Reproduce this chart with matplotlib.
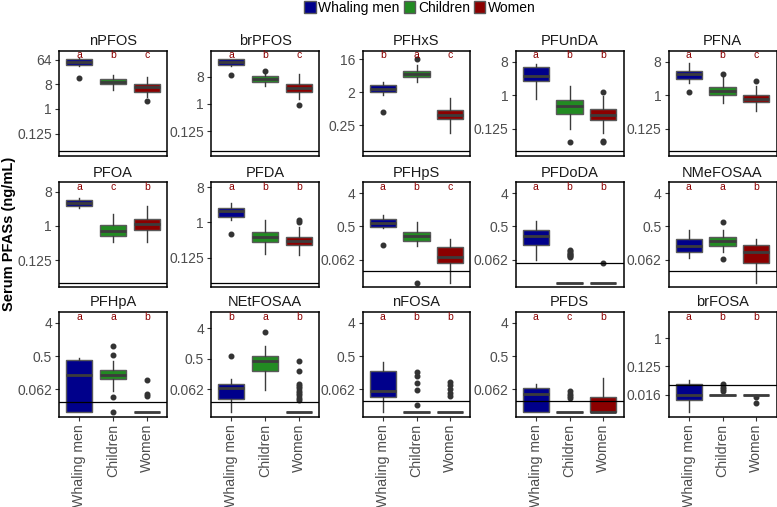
import matplotlib
matplotlib.use("Agg")
import matplotlib.pyplot as plt
from matplotlib.patches import Patch
import numpy as np

plt.rcParams['font.family'] = ['Liberation Sans', 'DejaVu Sans']

# panels (facet order) and groups
compounds = ["nPFOS", "brPFOS", "PFHxS", "PFUnDA", "PFNA",
             "PFOA", "PFDA", "PFHpS", "PFDoDA", "NMeFOSAA",
             "PFHpA", "NEtFOSAA", "nFOSA", "PFDS", "brFOSA"]
groups = ["Whaling men", "Children", "Women"]
colors = ["#00008B", "#228B22", "#8B0000"]

# significance letters per group
letters = [["a", "b", "c"], ["a", "b", "c"], ["b", "a", "c"], ["a", "b", "b"], ["a", "b", "c"],
           ["a", "c", "b"], ["a", "b", "b"], ["a", "b", "c"], ["a", "b", "b"], ["a", "a", "b"],
           ["a", "a", "b"], ["b", "a", "b"], ["a", "b", "b"], ["a", "c", "b"], ["a", "b", "b"]]

# detection limit line and height of the letters (ng/mL)
lod = [0.029, 0.028, 0.05, 0.031, 0.031, 0.032, 0.029, 0.030, 0.051, 0.030,
       0.029, 0.026, 0.030, 0.030, 0.032]
letter_y = [90, 40, 20, 12, 12, 10.7, 8, 5.8, 5.8, 5.8, 5.8, 8.75, 5.8, 5.8, 5.0]

yticks = [[64, 8, 1, 0.125], [8, 1, 0.125], [16, 2, 0.25], [8, 1, 0.125], [8, 1, 0.125],
          [8, 1, 0.125], [8, 1, 0.125], [4, 0.5, 0.0625], [4, 0.5, 0.0625], [4, 0.5, 0.0625],
          [4, 0.5, 0.0625], [4, 0.5, 0.0625], [4, 0.5, 0.0625], [4, 0.5, 0.0625], [1, 0.125, 0.015625]]

# box statistics (ng/mL), one row per compound, columns = groups
whislo = [[37, 4.9, 2.7], [17.9, 3.8, 1.45], [1.7, 3.8, 0.15], [0.77, 0.125, 0.093], [2.2, 0.6, 0.37],
          [3.0, 0.38, 0.38], [1.16, 0.16, 0.144], [0.45, 0.15, 0.015], [0.0625, 0.015, 0.015], [0.069, 0.1, 0.015],
          [0.015, 0.056, 0.015], [0.013, 0.061, 0.013], [0.015, 0.015, 0.015], [0.015, 0.015, 0.015], [0.0042, 0.0156, 0.0156]]
q1 = [[42, 8, 4], [19.3, 5.4, 2.46], [2.04, 5.2, 0.36], [2.4, 0.32, 0.21], [2.8, 0.99, 0.64],
      [3.3, 0.54, 0.78], [1.4, 0.32, 0.26], [0.48, 0.2, 0.051], [0.16, 0.015, 0.015], [0.099, 0.15, 0.051],
      [0.015, 0.12, 0.015], [0.033, 0.21, 0.013], [0.038, 0.015, 0.015], [0.015, 0.015, 0.015], [0.0103, 0.0156, 0.0156]]
med = [[52, 9.9, 6.2], [23.6, 6.7, 3.25], [2.5, 6.4, 0.49], [3.4, 0.51, 0.30], [3.7, 1.3, 0.81],
       [4.0, 0.76, 1.1], [1.9, 0.43, 0.34], [0.62, 0.27, 0.073], [0.27, 0.015, 0.015], [0.15, 0.2, 0.099],
       [0.157, 0.157, 0.015], [0.067, 0.42, 0.013], [0.057, 0.015, 0.015], [0.047, 0.015, 0.015], [0.0156, 0.0156, 0.0156]]
q3 = [[67, 12.4, 8], [29.6, 8.2, 4.6], [3.16, 7.6, 0.67], [5.7, 0.73, 0.42], [4.6, 1.7, 1.0],
      [4.8, 1.06, 1.55], [2.4, 0.57, 0.43], [0.77, 0.35, 0.138], [0.41, 0.015, 0.015], [0.22, 0.26, 0.16],
      [0.4, 0.21, 0.015], [0.092, 0.6, 0.013], [0.2, 0.015, 0.015], [0.067, 0.015, 0.038], [0.035, 0.0156, 0.0156]]
whishi = [[70, 17, 15], [30, 10.8, 10], [3.9, 10.7, 1.4], [7.1, 1.77, 0.95], [7.5, 3.3, 1.77],
          [5.5, 2.1, 3.4], [3.1, 1.16, 0.78], [1.03, 0.66, 0.22], [0.68, 0.015, 0.015], [0.39, 0.39, 0.22],
          [0.45, 0.37, 0.015], [0.126, 1.2, 0.013], [0.34, 0.015, 0.015], [0.087, 0.015, 0.13], [0.047, 0.0156, 0.0156]]
fliers = [[[13.8], [], [2.0]],
          [[9.1], [12.6], [0.9]],
          [[0.56], [16], []],
          [[], [0.053], [1.2, 0.057, 0.053]],
          [[1.2], [3.8], [2.4]],
          [[], [], []],
          [[0.51], [], [1.16, 1.0]],
          [[0.16], [0.015], []],
          [[], [0.117, 0.105, 0.095, 0.088, 0.082, 0.077, 0.073], [0.052]],
          [[], [0.64, 0.065], []],
          [[], [0.91, 0.55, 0.038, 0.015], [0.115, 0.048, 0.041]],
          [[0.61], [3.2], [0.44, 0.22, 0.09, 0.077, 0.066, 0.056, 0.048, 0.041, 0.035, 0.029]],
          [[], [0.18, 0.144, 0.095, 0.06, 0.024], [0.1, 0.082, 0.0625, 0.049, 0.041]],
          [[], [0.055, 0.048, 0.042, 0.036], []],
          [[], [0.033, 0.028, 0.024, 0.021], [0.013, 0.0084]]]

W, H = 777, 507
fig = plt.figure(figsize=(W / 100, H / 100), dpi=100)

col_left = [59, 211, 362.5, 515.5, 668.5]
row_top = [50.7, 182.3, 312]
pw, ph = 108, 105

for i, name in enumerate(compounds):
    r, c = divmod(i, 5)
    ax = fig.add_axes([col_left[c] / W, 1 - (row_top[r] + ph) / H, pw / W, ph / H])
    ax.set_yscale('log', base=2)

    stats = []
    for g in range(3):
        stats.append(dict(whislo=whislo[i][g], q1=q1[i][g], med=med[i][g], q3=q3[i][g],
                          whishi=whishi[i][g], fliers=fliers[i][g]))
    bp = ax.bxp(stats, positions=[1, 2, 3], widths=0.78, patch_artist=True, showcaps=False,
                boxprops=dict(edgecolor='#5a5a5a', linewidth=1.0),
                whiskerprops=dict(color='#3c3c3c', linewidth=1.0),
                medianprops=dict(color='#3c3c3c', linewidth=2.0),
                flierprops=dict(marker='o', markersize=3.3, markerfacecolor='#333333',
                                markeredgecolor='#333333'))
    for patch, col in zip(bp['boxes'], colors):
        patch.set_facecolor(col)

    ax.axhline(lod[i], color='black', linewidth=0.9, zorder=4)

    for g in range(3):
        ax.text(g + 1, letter_y[i], letters[i][g], color='#8B0000', fontsize=7.5,
                ha='center', va='center')

    allv = [lod[i]] + whislo[i] + [v for f in fliers[i] for v in f]
    lo = np.log2(min(allv))
    hi = np.log2(letter_y[i])
    span = hi - lo
    ax.set_ylim(2 ** (lo - 0.05 * span), 2 ** (hi + 0.05 * span))
    ax.set_xlim(0.4, 3.6)

    ax.yaxis.set_minor_locator(matplotlib.ticker.NullLocator())
    ax.set_yticks(yticks[i])
    ax.set_yticklabels([f"{round(v, 3):g}" for v in yticks[i]])
    ax.tick_params(axis='y', labelsize=10, colors='#333333', labelcolor='#4d4d4d',
                   length=3, width=0.8, pad=2)

    if r == 2:
        ax.set_xticks([1, 2, 3])
        ax.set_xticklabels(groups, rotation=90, fontsize=10.2, color='#4d4d4d')
        ax.tick_params(axis='x', colors='#333333', labelcolor='#4d4d4d', length=3, width=0.8, pad=2)
    else:
        ax.set_xticks([])

    for sp in ax.spines.values():
        sp.set_linewidth(1.1)
        sp.set_color('black')

    ax.set_title(name, fontsize=10.5, pad=4, color='#1a1a1a')

fig.text(9.5 / W, 1 - 234 / H, "Serum PFASs (ng/mL)", rotation=90, fontsize=10.5,
         fontweight='bold', ha='center', va='center')

handles = [Patch(facecolor=col, edgecolor='#5a5a5a', label=g) for g, col in zip(groups, colors)]
fig.legend(handles=handles, loc='center', bbox_to_anchor=(420 / W, 1 - 8 / H), ncol=3,
           frameon=False, fontsize=10, handlelength=0.8, handleheight=0.9,
           handletextpad=0.2, columnspacing=0.3, borderpad=0)

fig.savefig("out.png", dpi=100)
